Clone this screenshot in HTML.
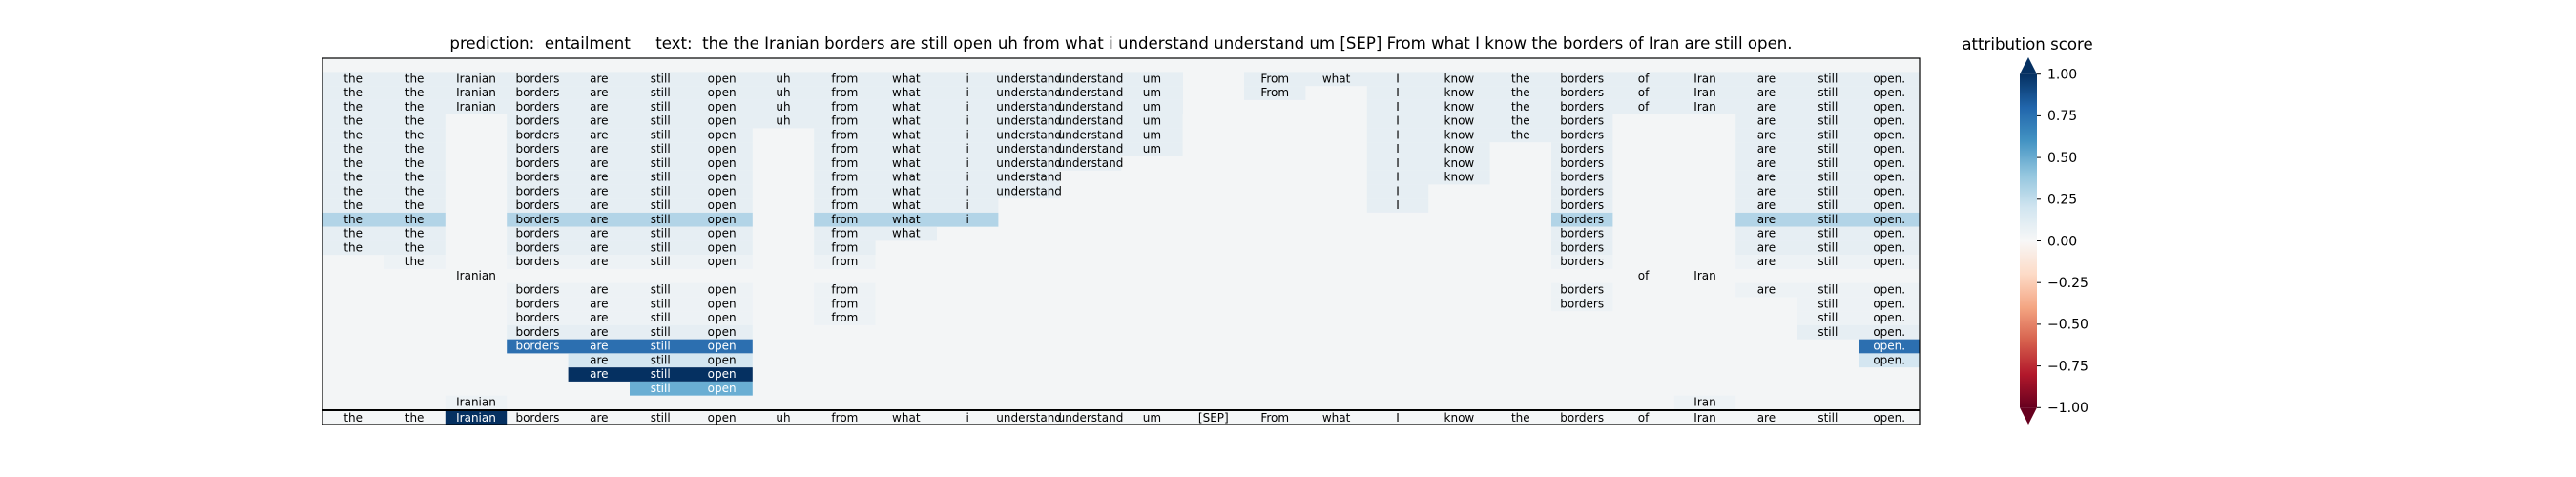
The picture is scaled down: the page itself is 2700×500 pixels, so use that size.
<!DOCTYPE html>
<html><head><meta charset="utf-8"><style>
html,body{margin:0;padding:0;background:#fff;}
svg{display:block;font-family:"DejaVu Sans","Liberation Sans",sans-serif;}
.t{font-size:12px;text-anchor:middle;fill:#000;}
.w{fill:#fff;}
.c{fill:#e6eef3;}
.h{fill:#b2d4e7;}
.m{fill:#2c6fb0;}
.l{fill:#d4e6f1;}
.d{fill:#053061;}
.k{fill:#6aaed3;}
.f{fill:#edf2f5;}
</style></head><body>
<svg width="2700" height="500" viewBox="0 0 2700 500" xmlns="http://www.w3.org/2000/svg">
<defs>
<linearGradient id="rdbu" x1="0" y1="0" x2="0" y2="1">
<stop offset="0" stop-color="#053061"/>
<stop offset="0.1" stop-color="#2166ac"/>
<stop offset="0.2" stop-color="#4393c3"/>
<stop offset="0.3" stop-color="#92c5de"/>
<stop offset="0.4" stop-color="#d1e5f0"/>
<stop offset="0.5" stop-color="#f7f7f7"/>
<stop offset="0.6" stop-color="#fddbc7"/>
<stop offset="0.7" stop-color="#f4a582"/>
<stop offset="0.8" stop-color="#d6604d"/>
<stop offset="0.9" stop-color="#b2182b"/>
<stop offset="1" stop-color="#67001f"/>
</linearGradient>
</defs>
<text x="1175" y="51" font-size="16.6" text-anchor="middle" xml:space="preserve">prediction:  entailment     text:  the the Iranian borders are still open uh from what i understand understand um [SEP] From what I know the borders of Iran are still open.</text>
<rect x="338" y="61" width="1674" height="384" fill="#f3f5f6"/>

<g transform="translate(0,75.4)">
<rect class="c" x="338" width="902" height="14.75"/>
<rect class="c" x="1304" width="708" height="14.75"/>
<text class="t" x="370.2" y="11">the</text><text class="t" x="434.6" y="11">the</text><text class="t" x="499" y="11">Iranian</text><text class="t" x="563.4" y="11">borders</text><text class="t" x="627.8" y="11">are</text><text class="t" x="692.2" y="11">still</text><text class="t" x="756.6" y="11">open</text><text class="t" x="821" y="11">uh</text><text class="t" x="885.4" y="11">from</text><text class="t" x="949.8" y="11">what</text><text class="t" x="1014.2" y="11">i</text><text class="t" x="1078.6" y="11">understand</text><text class="t" x="1143" y="11">understand</text><text class="t" x="1207.4" y="11">um</text>
<text class="t" x="1336.2" y="11">From</text><text class="t" x="1400.6" y="11">what</text><text class="t" x="1465" y="11">I</text><text class="t" x="1529.4" y="11">know</text><text class="t" x="1593.8" y="11">the</text><text class="t" x="1658.2" y="11">borders</text><text class="t" x="1722.6" y="11">of</text><text class="t" x="1787" y="11">Iran</text><text class="t" x="1851.4" y="11">are</text><text class="t" x="1915.8" y="11">still</text><text class="t" x="1980.2" y="11">open.</text>
</g>
<g transform="translate(0,90.15)">
<rect class="c" x="338" width="902" height="14.75"/>
<rect class="c" x="1304" width="64.4" height="14.75"/>
<rect class="c" x="1432.8" width="579.2" height="14.75"/>
<text class="t" x="370.2" y="11">the</text><text class="t" x="434.6" y="11">the</text><text class="t" x="499" y="11">Iranian</text><text class="t" x="563.4" y="11">borders</text><text class="t" x="627.8" y="11">are</text><text class="t" x="692.2" y="11">still</text><text class="t" x="756.6" y="11">open</text><text class="t" x="821" y="11">uh</text><text class="t" x="885.4" y="11">from</text><text class="t" x="949.8" y="11">what</text><text class="t" x="1014.2" y="11">i</text><text class="t" x="1078.6" y="11">understand</text><text class="t" x="1143" y="11">understand</text><text class="t" x="1207.4" y="11">um</text>
<text class="t" x="1336.2" y="11">From</text><text class="t" x="1465" y="11">I</text><text class="t" x="1529.4" y="11">know</text><text class="t" x="1593.8" y="11">the</text><text class="t" x="1658.2" y="11">borders</text><text class="t" x="1722.6" y="11">of</text><text class="t" x="1787" y="11">Iran</text><text class="t" x="1851.4" y="11">are</text><text class="t" x="1915.8" y="11">still</text><text class="t" x="1980.2" y="11">open.</text>
</g>
<g transform="translate(0,104.9)">
<rect class="c" x="338" width="902" height="14.75"/>
<rect class="c" x="1432.8" width="579.2" height="14.75"/>
<text class="t" x="370.2" y="11">the</text><text class="t" x="434.6" y="11">the</text><text class="t" x="499" y="11">Iranian</text><text class="t" x="563.4" y="11">borders</text><text class="t" x="627.8" y="11">are</text><text class="t" x="692.2" y="11">still</text><text class="t" x="756.6" y="11">open</text><text class="t" x="821" y="11">uh</text><text class="t" x="885.4" y="11">from</text><text class="t" x="949.8" y="11">what</text><text class="t" x="1014.2" y="11">i</text><text class="t" x="1078.6" y="11">understand</text><text class="t" x="1143" y="11">understand</text><text class="t" x="1207.4" y="11">um</text>
<text class="t" x="1465" y="11">I</text><text class="t" x="1529.4" y="11">know</text><text class="t" x="1593.8" y="11">the</text><text class="t" x="1658.2" y="11">borders</text><text class="t" x="1722.6" y="11">of</text><text class="t" x="1787" y="11">Iran</text><text class="t" x="1851.4" y="11">are</text><text class="t" x="1915.8" y="11">still</text><text class="t" x="1980.2" y="11">open.</text>
</g>
<g transform="translate(0,119.65)">
<rect class="c" x="338" width="128.8" height="14.75"/>
<rect class="c" x="531.2" width="708.4" height="14.75"/>
<rect class="c" x="1432.8" width="257.6" height="14.75"/>
<rect class="c" x="1819.2" width="192.8" height="14.75"/>
<text class="t" x="370.2" y="11">the</text><text class="t" x="434.6" y="11">the</text><text class="t" x="563.4" y="11">borders</text><text class="t" x="627.8" y="11">are</text><text class="t" x="692.2" y="11">still</text><text class="t" x="756.6" y="11">open</text><text class="t" x="821" y="11">uh</text><text class="t" x="885.4" y="11">from</text><text class="t" x="949.8" y="11">what</text><text class="t" x="1014.2" y="11">i</text><text class="t" x="1078.6" y="11">understand</text><text class="t" x="1143" y="11">understand</text><text class="t" x="1207.4" y="11">um</text>
<text class="t" x="1465" y="11">I</text><text class="t" x="1529.4" y="11">know</text><text class="t" x="1593.8" y="11">the</text><text class="t" x="1658.2" y="11">borders</text><text class="t" x="1851.4" y="11">are</text><text class="t" x="1915.8" y="11">still</text><text class="t" x="1980.2" y="11">open.</text>
</g>
<g transform="translate(0,134.4)">
<rect class="c" x="338" width="128.8" height="14.75"/>
<rect class="c" x="531.2" width="257.6" height="14.75"/>
<rect class="c" x="853.2" width="386.4" height="14.75"/>
<rect class="c" x="1432.8" width="257.6" height="14.75"/>
<rect class="c" x="1819.2" width="192.8" height="14.75"/>
<text class="t" x="370.2" y="11">the</text><text class="t" x="434.6" y="11">the</text><text class="t" x="563.4" y="11">borders</text><text class="t" x="627.8" y="11">are</text><text class="t" x="692.2" y="11">still</text><text class="t" x="756.6" y="11">open</text><text class="t" x="885.4" y="11">from</text><text class="t" x="949.8" y="11">what</text><text class="t" x="1014.2" y="11">i</text><text class="t" x="1078.6" y="11">understand</text><text class="t" x="1143" y="11">understand</text><text class="t" x="1207.4" y="11">um</text>
<text class="t" x="1465" y="11">I</text><text class="t" x="1529.4" y="11">know</text><text class="t" x="1593.8" y="11">the</text><text class="t" x="1658.2" y="11">borders</text><text class="t" x="1851.4" y="11">are</text><text class="t" x="1915.8" y="11">still</text><text class="t" x="1980.2" y="11">open.</text>
</g>
<g transform="translate(0,149.15)">
<rect class="c" x="338" width="128.8" height="14.75"/>
<rect class="c" x="531.2" width="257.6" height="14.75"/>
<rect class="c" x="853.2" width="386.4" height="14.75"/>
<rect class="c" x="1432.8" width="128.8" height="14.75"/>
<rect class="c" x="1626" width="64.4" height="14.75"/>
<rect class="c" x="1819.2" width="192.8" height="14.75"/>
<text class="t" x="370.2" y="11">the</text><text class="t" x="434.6" y="11">the</text><text class="t" x="563.4" y="11">borders</text><text class="t" x="627.8" y="11">are</text><text class="t" x="692.2" y="11">still</text><text class="t" x="756.6" y="11">open</text><text class="t" x="885.4" y="11">from</text><text class="t" x="949.8" y="11">what</text><text class="t" x="1014.2" y="11">i</text><text class="t" x="1078.6" y="11">understand</text><text class="t" x="1143" y="11">understand</text><text class="t" x="1207.4" y="11">um</text>
<text class="t" x="1465" y="11">I</text><text class="t" x="1529.4" y="11">know</text><text class="t" x="1658.2" y="11">borders</text><text class="t" x="1851.4" y="11">are</text><text class="t" x="1915.8" y="11">still</text><text class="t" x="1980.2" y="11">open.</text>
</g>
<g transform="translate(0,163.9)">
<rect class="c" x="338" width="128.8" height="14.75"/>
<rect class="c" x="531.2" width="257.6" height="14.75"/>
<rect class="c" x="853.2" width="322" height="14.75"/>
<rect class="c" x="1432.8" width="128.8" height="14.75"/>
<rect class="c" x="1626" width="64.4" height="14.75"/>
<rect class="c" x="1819.2" width="192.8" height="14.75"/>
<text class="t" x="370.2" y="11">the</text><text class="t" x="434.6" y="11">the</text><text class="t" x="563.4" y="11">borders</text><text class="t" x="627.8" y="11">are</text><text class="t" x="692.2" y="11">still</text><text class="t" x="756.6" y="11">open</text><text class="t" x="885.4" y="11">from</text><text class="t" x="949.8" y="11">what</text><text class="t" x="1014.2" y="11">i</text><text class="t" x="1078.6" y="11">understand</text><text class="t" x="1143" y="11">understand</text>
<text class="t" x="1465" y="11">I</text><text class="t" x="1529.4" y="11">know</text><text class="t" x="1658.2" y="11">borders</text><text class="t" x="1851.4" y="11">are</text><text class="t" x="1915.8" y="11">still</text><text class="t" x="1980.2" y="11">open.</text>
</g>
<g transform="translate(0,178.65)">
<rect class="c" x="338" width="128.8" height="14.75"/>
<rect class="c" x="531.2" width="257.6" height="14.75"/>
<rect class="c" x="853.2" width="257.6" height="14.75"/>
<rect class="c" x="1432.8" width="128.8" height="14.75"/>
<rect class="c" x="1626" width="64.4" height="14.75"/>
<rect class="c" x="1819.2" width="192.8" height="14.75"/>
<text class="t" x="370.2" y="11">the</text><text class="t" x="434.6" y="11">the</text><text class="t" x="563.4" y="11">borders</text><text class="t" x="627.8" y="11">are</text><text class="t" x="692.2" y="11">still</text><text class="t" x="756.6" y="11">open</text><text class="t" x="885.4" y="11">from</text><text class="t" x="949.8" y="11">what</text><text class="t" x="1014.2" y="11">i</text><text class="t" x="1078.6" y="11">understand</text>
<text class="t" x="1465" y="11">I</text><text class="t" x="1529.4" y="11">know</text><text class="t" x="1658.2" y="11">borders</text><text class="t" x="1851.4" y="11">are</text><text class="t" x="1915.8" y="11">still</text><text class="t" x="1980.2" y="11">open.</text>
</g>
<g transform="translate(0,193.4)">
<rect class="c" x="338" width="128.8" height="14.75"/>
<rect class="c" x="531.2" width="257.6" height="14.75"/>
<rect class="c" x="853.2" width="257.6" height="14.75"/>
<rect class="c" x="1432.8" width="64.4" height="14.75"/>
<rect class="c" x="1626" width="64.4" height="14.75"/>
<rect class="c" x="1819.2" width="192.8" height="14.75"/>
<text class="t" x="370.2" y="11">the</text><text class="t" x="434.6" y="11">the</text><text class="t" x="563.4" y="11">borders</text><text class="t" x="627.8" y="11">are</text><text class="t" x="692.2" y="11">still</text><text class="t" x="756.6" y="11">open</text><text class="t" x="885.4" y="11">from</text><text class="t" x="949.8" y="11">what</text><text class="t" x="1014.2" y="11">i</text><text class="t" x="1078.6" y="11">understand</text>
<text class="t" x="1465" y="11">I</text><text class="t" x="1658.2" y="11">borders</text><text class="t" x="1851.4" y="11">are</text><text class="t" x="1915.8" y="11">still</text><text class="t" x="1980.2" y="11">open.</text>
</g>
<g transform="translate(0,208.15)">
<rect class="c" x="338" width="128.8" height="14.75"/>
<rect class="c" x="531.2" width="257.6" height="14.75"/>
<rect class="c" x="853.2" width="193.2" height="14.75"/>
<rect class="c" x="1432.8" width="64.4" height="14.75"/>
<rect class="c" x="1626" width="64.4" height="14.75"/>
<rect class="c" x="1819.2" width="192.8" height="14.75"/>
<text class="t" x="370.2" y="11">the</text><text class="t" x="434.6" y="11">the</text><text class="t" x="563.4" y="11">borders</text><text class="t" x="627.8" y="11">are</text><text class="t" x="692.2" y="11">still</text><text class="t" x="756.6" y="11">open</text><text class="t" x="885.4" y="11">from</text><text class="t" x="949.8" y="11">what</text><text class="t" x="1014.2" y="11">i</text>
<text class="t" x="1465" y="11">I</text><text class="t" x="1658.2" y="11">borders</text><text class="t" x="1851.4" y="11">are</text><text class="t" x="1915.8" y="11">still</text><text class="t" x="1980.2" y="11">open.</text>
</g>
<g transform="translate(0,222.9)">
<rect class="h" x="338" width="128.8" height="14.75"/>
<rect class="h" x="531.2" width="257.6" height="14.75"/>
<rect class="h" x="853.2" width="193.2" height="14.75"/>
<rect class="h" x="1626" width="64.4" height="14.75"/>
<rect class="h" x="1819.2" width="192.8" height="14.75"/>
<text class="t" x="370.2" y="11">the</text><text class="t" x="434.6" y="11">the</text><text class="t" x="563.4" y="11">borders</text><text class="t" x="627.8" y="11">are</text><text class="t" x="692.2" y="11">still</text><text class="t" x="756.6" y="11">open</text><text class="t" x="885.4" y="11">from</text><text class="t" x="949.8" y="11">what</text><text class="t" x="1014.2" y="11">i</text>
<text class="t" x="1658.2" y="11">borders</text><text class="t" x="1851.4" y="11">are</text><text class="t" x="1915.8" y="11">still</text><text class="t" x="1980.2" y="11">open.</text>
</g>
<g transform="translate(0,237.65)">
<rect class="c" x="338" width="128.8" height="14.75"/>
<rect class="c" x="531.2" width="257.6" height="14.75"/>
<rect class="c" x="853.2" width="128.8" height="14.75"/>
<rect class="c" x="1626" width="64.4" height="14.75"/>
<rect class="c" x="1819.2" width="192.8" height="14.75"/>
<text class="t" x="370.2" y="11">the</text><text class="t" x="434.6" y="11">the</text><text class="t" x="563.4" y="11">borders</text><text class="t" x="627.8" y="11">are</text><text class="t" x="692.2" y="11">still</text><text class="t" x="756.6" y="11">open</text><text class="t" x="885.4" y="11">from</text><text class="t" x="949.8" y="11">what</text>
<text class="t" x="1658.2" y="11">borders</text><text class="t" x="1851.4" y="11">are</text><text class="t" x="1915.8" y="11">still</text><text class="t" x="1980.2" y="11">open.</text>
</g>
<g transform="translate(0,252.4)">
<rect class="c" x="338" width="128.8" height="14.75"/>
<rect class="c" x="531.2" width="257.6" height="14.75"/>
<rect class="c" x="853.2" width="64.4" height="14.75"/>
<rect class="c" x="1626" width="64.4" height="14.75"/>
<rect class="c" x="1819.2" width="192.8" height="14.75"/>
<text class="t" x="370.2" y="11">the</text><text class="t" x="434.6" y="11">the</text><text class="t" x="563.4" y="11">borders</text><text class="t" x="627.8" y="11">are</text><text class="t" x="692.2" y="11">still</text><text class="t" x="756.6" y="11">open</text><text class="t" x="885.4" y="11">from</text>
<text class="t" x="1658.2" y="11">borders</text><text class="t" x="1851.4" y="11">are</text><text class="t" x="1915.8" y="11">still</text><text class="t" x="1980.2" y="11">open.</text>
</g>
<g transform="translate(0,267.15)">
<rect class="f" x="402.4" width="64.4" height="14.75"/>
<rect class="f" x="531.2" width="257.6" height="14.75"/>
<rect class="f" x="853.2" width="64.4" height="14.75"/>
<rect class="f" x="1626" width="64.4" height="14.75"/>
<rect class="f" x="1819.2" width="192.8" height="14.75"/>
<text class="t" x="434.6" y="11">the</text><text class="t" x="563.4" y="11">borders</text><text class="t" x="627.8" y="11">are</text><text class="t" x="692.2" y="11">still</text><text class="t" x="756.6" y="11">open</text><text class="t" x="885.4" y="11">from</text>
<text class="t" x="1658.2" y="11">borders</text><text class="t" x="1851.4" y="11">are</text><text class="t" x="1915.8" y="11">still</text><text class="t" x="1980.2" y="11">open.</text>
</g>
<g transform="translate(0,281.9)">
<text class="t" x="499" y="11">Iranian</text>
<text class="t" x="1722.6" y="11">of</text><text class="t" x="1787" y="11">Iran</text>
</g>
<g transform="translate(0,296.65)">
<rect class="f" x="531.2" width="257.6" height="14.75"/>
<rect class="f" x="853.2" width="64.4" height="14.75"/>
<rect class="f" x="1626" width="64.4" height="14.75"/>
<rect class="f" x="1819.2" width="192.8" height="14.75"/>
<text class="t" x="563.4" y="11">borders</text><text class="t" x="627.8" y="11">are</text><text class="t" x="692.2" y="11">still</text><text class="t" x="756.6" y="11">open</text><text class="t" x="885.4" y="11">from</text>
<text class="t" x="1658.2" y="11">borders</text><text class="t" x="1851.4" y="11">are</text><text class="t" x="1915.8" y="11">still</text><text class="t" x="1980.2" y="11">open.</text>
</g>
<g transform="translate(0,311.4)">
<rect class="f" x="531.2" width="257.6" height="14.75"/>
<rect class="f" x="853.2" width="64.4" height="14.75"/>
<rect class="f" x="1626" width="64.4" height="14.75"/>
<rect class="f" x="1883.6" width="128.4" height="14.75"/>
<text class="t" x="563.4" y="11">borders</text><text class="t" x="627.8" y="11">are</text><text class="t" x="692.2" y="11">still</text><text class="t" x="756.6" y="11">open</text><text class="t" x="885.4" y="11">from</text>
<text class="t" x="1658.2" y="11">borders</text><text class="t" x="1915.8" y="11">still</text><text class="t" x="1980.2" y="11">open.</text>
</g>
<g transform="translate(0,326.15)">
<rect class="f" x="531.2" width="257.6" height="14.75"/>
<rect class="f" x="853.2" width="64.4" height="14.75"/>
<rect class="f" x="1883.6" width="128.4" height="14.75"/>
<text class="t" x="563.4" y="11">borders</text><text class="t" x="627.8" y="11">are</text><text class="t" x="692.2" y="11">still</text><text class="t" x="756.6" y="11">open</text><text class="t" x="885.4" y="11">from</text>
<text class="t" x="1915.8" y="11">still</text><text class="t" x="1980.2" y="11">open.</text>
</g>
<g transform="translate(0,340.9)">
<rect class="c" x="531.2" width="257.6" height="14.75"/>
<rect class="c" x="1883.6" width="128.4" height="14.75"/>
<text class="t" x="563.4" y="11">borders</text><text class="t" x="627.8" y="11">are</text><text class="t" x="692.2" y="11">still</text><text class="t" x="756.6" y="11">open</text>
<text class="t" x="1915.8" y="11">still</text><text class="t" x="1980.2" y="11">open.</text>
</g>
<g transform="translate(0,355.65)">
<rect class="m" x="531.2" width="257.6" height="14.75"/>
<rect class="m" x="1948" width="64" height="14.75"/>
<text class="t w" x="563.4" y="11">borders</text><text class="t w" x="627.8" y="11">are</text><text class="t w" x="692.2" y="11">still</text><text class="t w" x="756.6" y="11">open</text>
<text class="t w" x="1980.2" y="11">open.</text>
</g>
<g transform="translate(0,370.4)">
<rect class="l" x="595.6" width="193.2" height="14.75"/>
<rect class="l" x="1948" width="64" height="14.75"/>
<text class="t" x="627.8" y="11">are</text><text class="t" x="692.2" y="11">still</text><text class="t" x="756.6" y="11">open</text>
<text class="t" x="1980.2" y="11">open.</text>
</g>
<g transform="translate(0,385.15)">
<rect class="d" x="595.6" width="193.2" height="14.75"/>
<text class="t w" x="627.8" y="11">are</text><text class="t w" x="692.2" y="11">still</text><text class="t w" x="756.6" y="11">open</text>
</g>
<g transform="translate(0,399.9)">
<rect class="k" x="660" width="128.8" height="14.75"/>
<text class="t w" x="692.2" y="11">still</text><text class="t w" x="756.6" y="11">open</text>
</g>
<g transform="translate(0,414.65)">
<rect class="f" x="466.8" width="64.4" height="14.75"/>
<rect class="f" x="1754.8" width="64.4" height="14.75"/>
<text class="t" x="499" y="11">Iranian</text>
<text class="t" x="1787" y="11">Iran</text>
</g>
<g transform="translate(0,431)">
<rect x="338" width="1674" height="14" fill="#f4f6f7"/>
<rect class="d" x="466.8" width="64.4" height="14"/>
<text class="t" x="370.2" y="11">the</text><text class="t" x="434.6" y="11">the</text><text class="t w" x="499" y="11">Iranian</text><text class="t" x="563.4" y="11">borders</text><text class="t" x="627.8" y="11">are</text><text class="t" x="692.2" y="11">still</text><text class="t" x="756.6" y="11">open</text><text class="t" x="821" y="11">uh</text><text class="t" x="885.4" y="11">from</text><text class="t" x="949.8" y="11">what</text><text class="t" x="1014.2" y="11">i</text><text class="t" x="1078.6" y="11">understand</text><text class="t" x="1143" y="11">understand</text><text class="t" x="1207.4" y="11">um</text><text class="t" x="1271.8" y="11">[SEP]</text><text class="t" x="1336.2" y="11">From</text><text class="t" x="1400.6" y="11">what</text><text class="t" x="1465" y="11">I</text><text class="t" x="1529.4" y="11">know</text><text class="t" x="1593.8" y="11">the</text><text class="t" x="1658.2" y="11">borders</text><text class="t" x="1722.6" y="11">of</text><text class="t" x="1787" y="11">Iran</text><text class="t" x="1851.4" y="11">are</text><text class="t" x="1915.8" y="11">still</text><text class="t" x="1980.2" y="11">open.</text>
</g>
<line x1="338" y1="430" x2="2012" y2="430" stroke="#000" stroke-width="2"/>
<rect x="338" y="61" width="1674" height="384" fill="none" stroke="#000" stroke-width="1.2"/>

<text x="2125" y="52" font-size="16.6" text-anchor="middle">attribution score</text>
<polygon points="2126,60 2135,77.7 2117,77.7" fill="#053061"/>
<rect x="2117" y="77.7" width="18" height="349.6" fill="url(#rdbu)"/>
<polygon points="2117,427.3 2135,427.3 2126,445" fill="#67001f"/>
<g stroke="#000" stroke-width="1">
<line x1="2135" y1="77.7" x2="2139" y2="77.7"/><line x1="2135" y1="121.4" x2="2139" y2="121.4"/><line x1="2135" y1="165.1" x2="2139" y2="165.1"/><line x1="2135" y1="208.8" x2="2139" y2="208.8"/><line x1="2135" y1="252.5" x2="2139" y2="252.5"/><line x1="2135" y1="296.2" x2="2139" y2="296.2"/><line x1="2135" y1="339.9" x2="2139" y2="339.9"/><line x1="2135" y1="383.6" x2="2139" y2="383.6"/><line x1="2135" y1="427.3" x2="2139" y2="427.3"/>
</g>
<g font-size="14">
<text x="2146" y="82.5">1.00</text><text x="2146" y="126.2">0.75</text><text x="2146" y="169.9">0.50</text><text x="2146" y="213.6">0.25</text><text x="2146" y="257.3">0.00</text><text x="2146" y="301">−0.25</text><text x="2146" y="344.7">−0.50</text><text x="2146" y="388.4">−0.75</text><text x="2146" y="432.1">−1.00</text>
</g>
</svg>
</body></html>
